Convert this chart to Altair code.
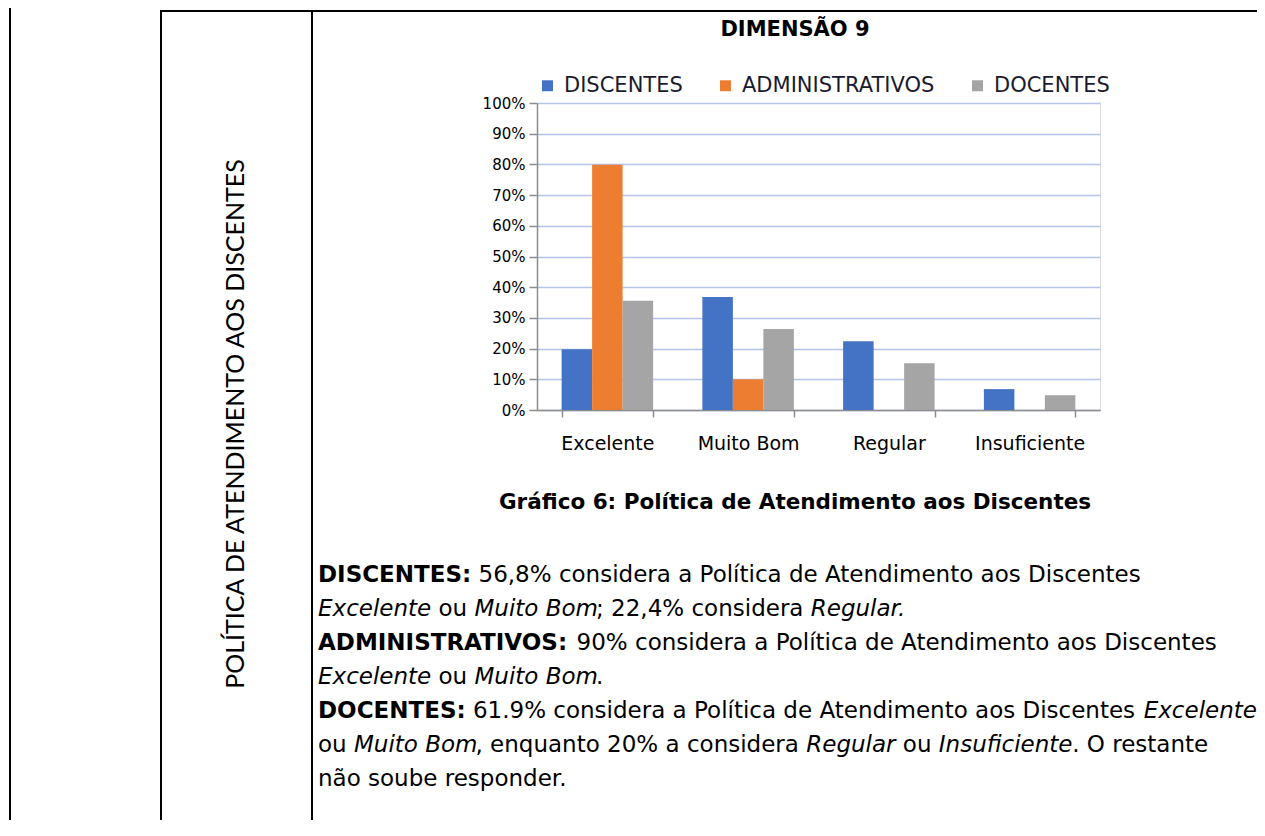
import altair as alt
import pandas as pd

# ---------------- data ----------------
categorias = ["Excelente", "Muito Bom", "Regular", "Insuficiente"]
grupos = ["DISCENTES", "ADMINISTRATIVOS", "DOCENTES"]
discentes = [19.8, 36.8, 22.4, 6.8]
administrativos = [79.9, 10.0, 0.0, 0.0]
docentes = [35.6, 26.4, 15.2, 4.8]
y_ticks = [0, 0.1, 0.2, 0.3, 0.4, 0.5, 0.6, 0.7, 0.8, 0.9, 1.0]

titulo = "DIMENSÃO 9"
legenda_grafico = "Gráfico 6: Política de Atendimento aos Discentes"
rotulo_lateral = "POLÍTICA DE ATENDIMENTO AOS DISCENTES"

# body text, one list of (segment, kind) per line; kind: b=bold, r=regular, i=italic
linhas = [
    [("DISCENTES:", "b"), (" 56,8% considera a Política de Atendimento aos Discentes", "r")],
    [("Excelente", "i"), (" ou ", "r"), ("Muito Bom", "i"), ("; 22,4% considera ", "r"), ("Regular.", "i")],
    [("ADMINISTRATIVOS:", "b"), (" 90% considera a Política de Atendimento aos Discentes", "r")],
    [("Excelente", "i"), (" ou ", "r"), ("Muito Bom", "i"), (".", "r")],
    [("DOCENTES:", "b"), (" 61.9% considera a Política de Atendimento aos Discentes ", "r"), ("Excelente", "i")],
    [("ou ", "r"), ("Muito Bom", "i"), (", enquanto 20% a considera ", "r"), ("Regular", "i"), (" ou ", "r"),
     ("Insuficiente", "i"), (". O restante", "r")],
    [("não soube responder.", "r")],
]

rows = []
for i, c in enumerate(categorias):
    for g, vals in zip(grupos, [discentes, administrativos, docentes]):
        rows.append({"categoria": c, "grupo": g, "valor": vals[i] / 100})
df = pd.DataFrame(rows)

# ---------------- layout ----------------
FONT = "DejaVu Sans"
OX, OY = 537, 103          # plot-area origin on the page
W, H = 563, 307
PAD = {"left": OX - 8, "top": OY - 8, "right": 1257 - (OX + W), "bottom": 812 - (OY - 8) - H}

# approximate DejaVu Sans advance widths (em) used to chain the text segments
REG = {" ": .318, "%": .950, ",": .318, ".": .318, ":": .337, ";": .337,
       "A": .684, "C": .698, "D": .770, "E": .632, "I": .295, "M": .863, "N": .748, "O": .787,
       "P": .603, "R": .695, "S": .635, "T": .611, "V": .684,
       "a": .613, "b": .635, "c": .550, "d": .635, "e": .615, "f": .352, "g": .635, "h": .634,
       "i": .278, "l": .278, "m": .974, "n": .634, "o": .612, "p": .635, "q": .635, "r": .411,
       "s": .521, "t": .392, "u": .634, "v": .592, "x": .592, "z": .525,
       "á": .613, "ã": .613, "í": .278, "é": .615, "ó": .612}
BOLD = {" ": .348, "%": 1.002, ",": .380, ".": .380, ":": .400, ";": .400,
        "A": .774, "C": .734, "D": .830, "E": .683, "I": .372, "M": .995, "N": .837, "O": .850,
        "P": .733, "R": .770, "S": .720, "T": .682, "V": .774}


def width(s, kind, size):
    tab = BOLD if kind == "b" else REG
    tot = 0.0
    for ch in s:
        if ch.isdigit():
            tot += .696 if kind == "b" else .636
        else:
            tot += tab.get(ch, REG.get(ch, .6))
    return tot * size


def px(x):
    return x - OX


def py(y):
    return y - OY


ONE = alt.Data(values=[{"k": 1}])


def txt(text, x, y, size=20, weight="normal", style="normal", align="left", angle=0,
        color="black", font=FONT):
    return alt.Chart(ONE).mark_text(
        text=text, align=align, baseline="middle", fontSize=size, fontWeight=weight,
        fontStyle=style, font=font, angle=angle, color=color
    ).encode(x=alt.value(px(x)), y=alt.value(py(y)))


def rule(x1, y1, x2, y2, w=2):
    return alt.Chart(ONE).mark_rule(color="black", strokeWidth=w).encode(
        x=alt.value(px(x1)), x2=alt.value(px(x2)), y=alt.value(py(y1)), y2=alt.value(py(y2))
    )


# ---------------- bar chart ----------------
bars = alt.Chart(df).mark_bar().encode(
    x=alt.X(
        "categoria:N", sort=categorias,
        scale=alt.Scale(paddingInner=0.35, paddingOuter=0.175),
        axis=alt.Axis(
            title=None, labelAngle=0, tickBand="extent", labelFontSize=19, labelFont=FONT,
            labelColor="#000000", labelPadding=17, tickSize=7, tickColor="#8c8c8c",
            domainColor="#8c8c8c", domainWidth=1.5, tickWidth=1.5, grid=False,
        ),
    ),
    xOffset=alt.XOffset("grupo:N", sort=grupos, scale=alt.Scale(paddingInner=0, paddingOuter=0)),
    y=alt.Y(
        "valor:Q", scale=alt.Scale(domain=[0, 1]),
        axis=alt.Axis(
            title=None, format=".0%", values=y_ticks, labelFontSize=15, labelFont=FONT,
            labelColor="#000000", labelPadding=4, tickSize=8, tickColor="#8c8c8c",
            domainColor="#8c8c8c", domainWidth=1.5, tickWidth=1.5,
            grid=True, gridColor="#b4c4ee", gridWidth=1.3,
        ),
    ),
    color=alt.Color(
        "grupo:N",
        scale=alt.Scale(domain=grupos, range=["#4472C4", "#ED7D31", "#A5A5A5"]),
        legend=alt.Legend(
            title=None, orient="none", legendX=0, legendY=-28, direction="horizontal",
            symbolType="square", symbolSize=120, symbolStrokeWidth=0, labelFontSize=21,
            labelFont=FONT, labelColor="#1a1a2e", columnPadding=32, labelOffset=6, padding=0,
            labelLimit=400,
        ),
    ),
)

# ---------------- page decorations ----------------
layers = [
    bars,
    rule(10, 8, 10, 820),
    rule(161, 11, 161, 820),
    rule(312, 11, 312, 820),
    rule(160, 11, 1265, 11),
    txt(rotulo_lateral, 236, 424, size=25, angle=270, align="center", font="Lato"),
    txt(titulo, 795, 30, size=21, weight="bold", align="center"),
    txt(legenda_grafico, 795, 503, size=21.5, weight="bold", align="center"),
]

BODY = 23
X0, Y0, DY = 318, 575, 34
for n, segs in enumerate(linhas):
    x = X0
    y = Y0 + n * DY
    for s, kind in segs:
        lead = len(s) - len(s.lstrip(" "))
        xs = x + width(" " * lead, kind, BODY)
        layers.append(txt(
            s.strip(" "), xs, y, size=BODY,
            weight="bold" if kind == "b" else "normal",
            style="italic" if kind == "i" else "normal",
        ))
        x += width(s, kind, BODY)

chart = alt.layer(*layers).properties(
    width=W, height=H, padding=PAD, autosize=alt.AutoSizeParams(type="none"),
).configure_view(stroke=None).configure(background="white")

chart.save("out.html", embed_options={"renderer": "svg", "actions": False})
